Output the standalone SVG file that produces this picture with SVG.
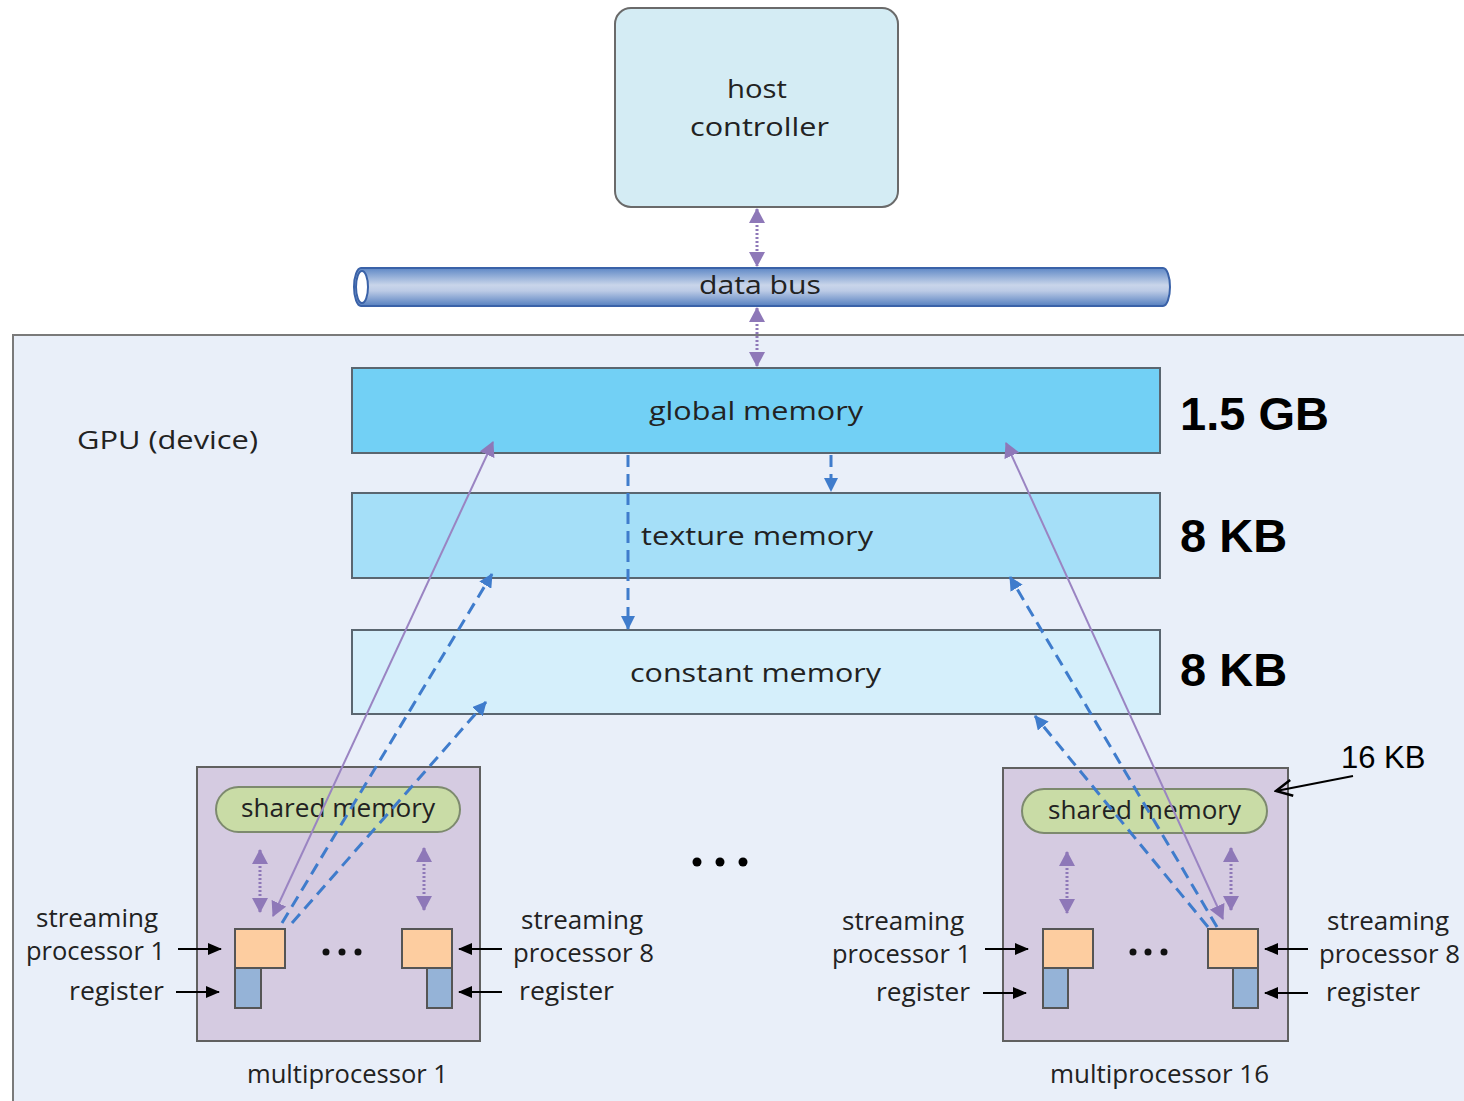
<svg xmlns="http://www.w3.org/2000/svg" width="1464" height="1101" viewBox="0 0 1464 1101">
<style>
  .t { font-family: "Open Sans", "Noto Sans", sans-serif; font-size: 26px; fill: #222; }
  .b { font-family: "Liberation Sans", Arial, sans-serif; font-weight: bold; font-size: 47px; fill: #000; }
  .mem { stroke: #5a6670; stroke-width: 2; }
  .mp { fill: #d5cbe1; stroke: #606060; stroke-width: 2; }
  .sh { fill: #c9dca6; stroke: #7d8a6e; stroke-width: 2; }
  .sp { fill: #fdcda0; stroke: #555; stroke-width: 2; }
  .rg { fill: #95b3d7; stroke: #555; stroke-width: 2; }
  .pd { stroke: #8e78b8; stroke-width: 3; stroke-dasharray: 2 2; fill: none; }
  .pl { stroke: #9a84c2; stroke-width: 2; fill: none; }
  .bd { stroke: #3f7ccc; stroke-width: 3; stroke-dasharray: 12 7; fill: none; }
  .bk { stroke: #000; stroke-width: 2; fill: none; }
</style>
<defs>
  <marker id="pa" markerUnits="userSpaceOnUse" markerWidth="16" markerHeight="16" refX="14" refY="8" orient="auto-start-reverse">
    <path d="M0,0 L15,8 L0,16 z" fill="#8e78b8"/>
  </marker>
  <marker id="ba" markerUnits="userSpaceOnUse" markerWidth="14" markerHeight="14" refX="13" refY="7" orient="auto-start-reverse">
    <path d="M0,0 L14,7 L0,14 z" fill="#3f7ccc"/>
  </marker>
  <marker id="ka" markerUnits="userSpaceOnUse" markerWidth="14" markerHeight="12" refX="13" refY="6" orient="auto">
    <path d="M0,0 L14,6 L0,12 z" fill="#000"/>
  </marker>
  <marker id="ko" markerUnits="userSpaceOnUse" markerWidth="20" markerHeight="20" refX="18" refY="10" orient="auto">
    <path d="M2,2 L18,10 L2,18" fill="none" stroke="#000" stroke-width="2.5"/>
  </marker>
  <linearGradient id="bus" x1="0" y1="0" x2="0" y2="1">
    <stop offset="0" stop-color="#5f88c6"/>
    <stop offset="0.45" stop-color="#c9d5ea"/>
    <stop offset="0.6" stop-color="#bccbe6"/>
    <stop offset="1" stop-color="#5680c0"/>
  </linearGradient>
</defs>

<rect width="1464" height="1101" fill="#ffffff"/>

<g id="gpu">
  <rect x="13" y="335" width="1470" height="790" fill="#e9eff9" stroke="#7a7a7a" stroke-width="2"/>
  <text class="t" x="77" y="449" textLength="181" lengthAdjust="spacingAndGlyphs">GPU (device)</text>
</g>

<g id="host">
  <rect x="615" y="8" width="283" height="199" rx="16" fill="#d4ecf4" stroke="#6a6a6a" stroke-width="2"/>
  <text class="t" x="727" y="98" font-size="29" textLength="60" lengthAdjust="spacingAndGlyphs">host</text>
  <text class="t" x="690" y="136" font-size="29" textLength="139" lengthAdjust="spacingAndGlyphs">controller</text>
</g>

<g id="databus">
  <path d="M361,268 L1163,268 A7,19 0 0 1 1163,306 L361,306 A7,19 0 0 1 361,268 z" fill="url(#bus)" stroke="#3a62a8" stroke-width="2"/>
  <ellipse cx="362" cy="287" rx="6" ry="16" fill="#ffffff" stroke="#3a62a8" stroke-width="2"/>
  <text class="t" x="699" y="294" textLength="122" lengthAdjust="spacingAndGlyphs">data bus</text>
</g>

<g id="global">
  <rect class="mem" x="352" y="368" width="808" height="85" fill="#72d0f5"/>
  <text class="t" x="649" y="420" textLength="214" lengthAdjust="spacingAndGlyphs">global memory</text>
  <text class="b" x="1180" y="430">1.5 GB</text>
</g>

<g id="texture">
  <rect class="mem" x="352" y="493" width="808" height="85" fill="#a5dff8"/>
  <text class="t" x="641" y="545" textLength="232" lengthAdjust="spacingAndGlyphs">texture memory</text>
  <text class="b" x="1180" y="552">8 KB</text>
</g>

<g id="constant">
  <rect class="mem" x="352" y="630" width="808" height="84" fill="#d5effb"/>
  <text class="t" x="630" y="682" textLength="251" lengthAdjust="spacingAndGlyphs">constant memory</text>
  <text class="b" x="1180" y="686">8 KB</text>
</g>

<g id="mp1">
  <rect class="mp" x="197" y="767" width="283" height="274"/>
  <rect class="sh" x="216" y="787" width="244" height="45" rx="22.5"/>
  <text class="t" x="241" y="817" textLength="194" lengthAdjust="spacingAndGlyphs">shared memory</text>
  <rect class="sp" x="235" y="929" width="50" height="39"/>
  <rect class="rg" x="235" y="968" width="26" height="40"/>
  <rect class="sp" x="402" y="929" width="50" height="39"/>
  <rect class="rg" x="427" y="968" width="25" height="40"/>
  <circle cx="326" cy="952" r="3.5" fill="#111"/>
  <circle cx="342" cy="952" r="3.5" fill="#111"/>
  <circle cx="358" cy="952" r="3.5" fill="#111"/>
  <text class="t" x="247" y="1083" textLength="201" lengthAdjust="spacingAndGlyphs">multiprocessor 1</text>
  <text class="t" x="36" y="927" textLength="122" lengthAdjust="spacingAndGlyphs">streaming</text>
  <text class="t" x="26" y="960" textLength="139" lengthAdjust="spacingAndGlyphs">processor 1</text>
  <text class="t" x="69" y="1000" textLength="95" lengthAdjust="spacingAndGlyphs">register</text>
  <text class="t" x="521" y="929" textLength="122" lengthAdjust="spacingAndGlyphs">streaming</text>
  <text class="t" x="513" y="962" textLength="141" lengthAdjust="spacingAndGlyphs">processor 8</text>
  <text class="t" x="519" y="1000" textLength="95" lengthAdjust="spacingAndGlyphs">register</text>
</g>

<g id="mp16">
  <rect class="mp" x="1003" y="768" width="285" height="273"/>
  <rect class="sh" x="1022" y="789" width="245" height="44" rx="22"/>
  <text class="t" x="1048" y="819" textLength="193" lengthAdjust="spacingAndGlyphs">shared memory</text>
  <rect class="sp" x="1043" y="929" width="50" height="39"/>
  <rect class="rg" x="1043" y="968" width="25" height="40"/>
  <rect class="sp" x="1208" y="929" width="50" height="39"/>
  <rect class="rg" x="1233" y="968" width="25" height="40"/>
  <circle cx="1133" cy="952" r="3.5" fill="#111"/>
  <circle cx="1148" cy="952" r="3.5" fill="#111"/>
  <circle cx="1164" cy="952" r="3.5" fill="#111"/>
  <text class="t" x="1050" y="1083" textLength="219" lengthAdjust="spacingAndGlyphs">multiprocessor 16</text>
  <text class="t" x="842" y="930" textLength="122" lengthAdjust="spacingAndGlyphs">streaming</text>
  <text class="t" x="832" y="963" textLength="139" lengthAdjust="spacingAndGlyphs">processor 1</text>
  <text class="t" x="876" y="1001" textLength="94" lengthAdjust="spacingAndGlyphs">register</text>
  <text class="t" x="1327" y="930" textLength="122" lengthAdjust="spacingAndGlyphs">streaming</text>
  <text class="t" x="1319" y="963" textLength="141" lengthAdjust="spacingAndGlyphs">processor 8</text>
  <text class="t" x="1326" y="1001" textLength="94" lengthAdjust="spacingAndGlyphs">register</text>
  <text x="1341" y="768" font-family="Liberation Sans, Arial, sans-serif" font-size="31" fill="#000">16 KB</text>
</g>

<g id="ellipsis">
  <circle cx="697" cy="862" r="4.5" fill="#000"/>
  <circle cx="720" cy="862" r="4.5" fill="#000"/>
  <circle cx="743" cy="862" r="4.5" fill="#000"/>
</g>

<g id="connectors">
  <line class="pd" x1="757" y1="209" x2="757" y2="266" marker-start="url(#pa)" marker-end="url(#pa)"/>
  <line class="pd" x1="757" y1="308" x2="757" y2="366" marker-start="url(#pa)" marker-end="url(#pa)"/>
  <line class="bd" x1="628" y1="455" x2="628" y2="629" marker-end="url(#ba)"/>
  <line class="bd" x1="831" y1="455" x2="831" y2="491" marker-end="url(#ba)"/>

  <line class="pl" x1="273" y1="916" x2="493" y2="442" marker-start="url(#pa)" marker-end="url(#pa)"/>
  <line class="bd" x1="282" y1="923" x2="492" y2="574" marker-end="url(#ba)"/>
  <line class="bd" x1="292" y1="923" x2="486" y2="702" marker-end="url(#ba)"/>

  <line class="pl" x1="1223" y1="919" x2="1006" y2="443" marker-start="url(#pa)" marker-end="url(#pa)"/>
  <line class="bd" x1="1217" y1="927" x2="1010" y2="577" marker-end="url(#ba)"/>
  <line class="bd" x1="1208" y1="927" x2="1035" y2="716" marker-end="url(#ba)"/>

  <line class="pd" x1="260" y1="850" x2="260" y2="912" marker-start="url(#pa)" marker-end="url(#pa)"/>
  <line class="pd" x1="424" y1="848" x2="424" y2="910" marker-start="url(#pa)" marker-end="url(#pa)"/>
  <line class="pd" x1="1067" y1="852" x2="1067" y2="913" marker-start="url(#pa)" marker-end="url(#pa)"/>
  <line class="pd" x1="1231" y1="848" x2="1231" y2="910" marker-start="url(#pa)" marker-end="url(#pa)"/>

  <line class="bk" x1="178" y1="949" x2="221" y2="949" marker-end="url(#ka)"/>
  <line class="bk" x1="176" y1="992" x2="219" y2="992" marker-end="url(#ka)"/>
  <line class="bk" x1="502" y1="949" x2="459" y2="949" marker-end="url(#ka)"/>
  <line class="bk" x1="502" y1="992" x2="459" y2="992" marker-end="url(#ka)"/>
  <line class="bk" x1="985" y1="949" x2="1028" y2="949" marker-end="url(#ka)"/>
  <line class="bk" x1="983" y1="993" x2="1026" y2="993" marker-end="url(#ka)"/>
  <line class="bk" x1="1308" y1="949" x2="1265" y2="949" marker-end="url(#ka)"/>
  <line class="bk" x1="1308" y1="993" x2="1265" y2="993" marker-end="url(#ka)"/>

  <line class="bk" x1="1353" y1="776" x2="1276" y2="791" stroke-width="2.5" marker-end="url(#ko)"/>
</g>
</svg>
